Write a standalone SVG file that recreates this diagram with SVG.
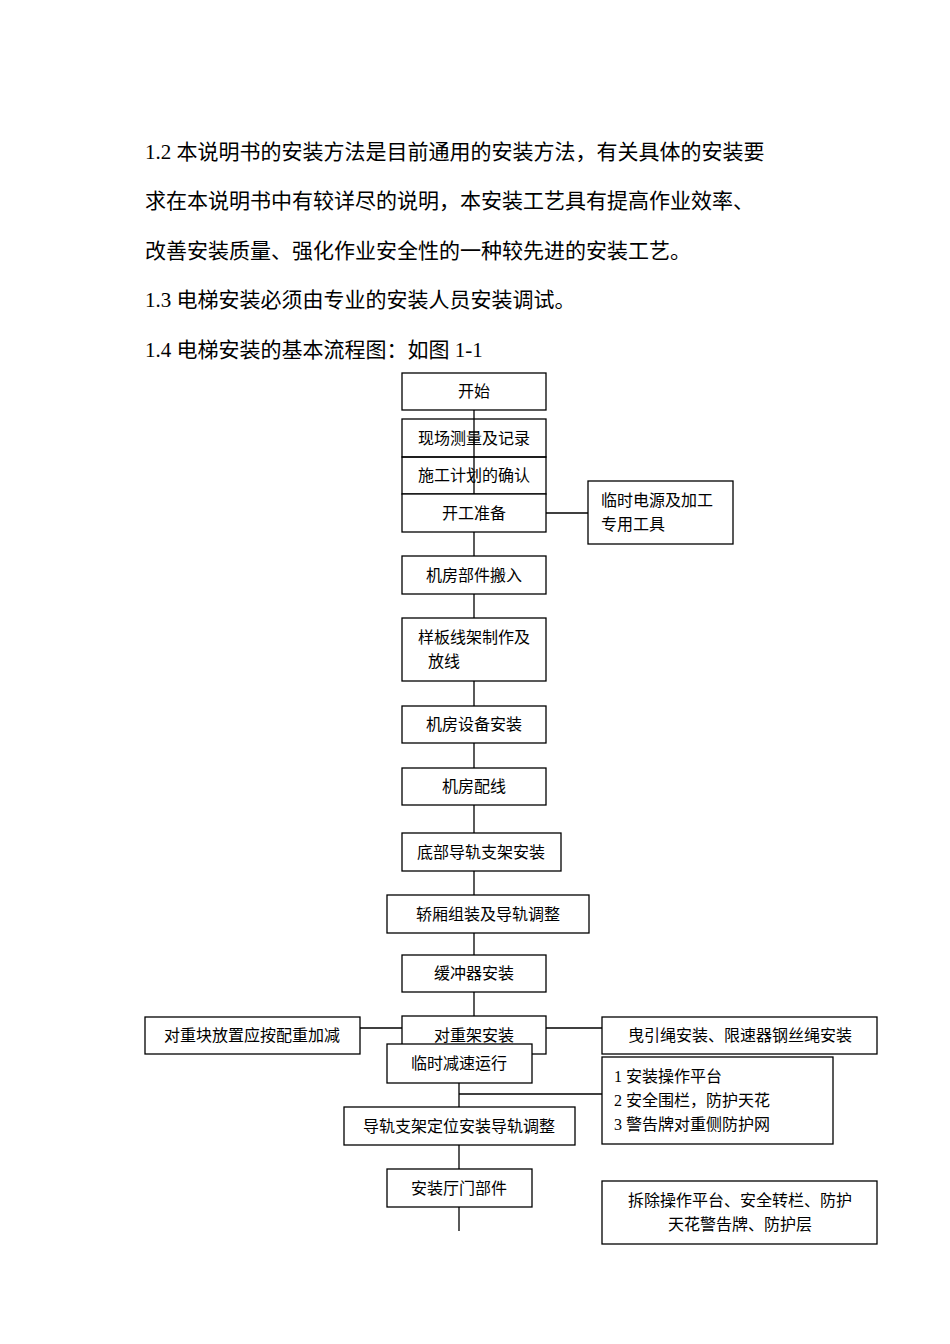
<svg xmlns="http://www.w3.org/2000/svg" width="950" height="1344" viewBox="0 0 950 1344">
<style>
.p{font-family:"Liberation Serif","Noto Sans CJK SC",serif;font-size:21px;fill:#000}
.t{font-family:"Liberation Serif","Noto Sans CJK SC",serif;font-size:16px;fill:#000}
rect{fill:#fff;stroke:#000;stroke-width:1.3}
line{stroke:#000;stroke-width:1.3}
</style>
<rect x="0" y="0" width="950" height="1344" style="stroke:none"/>
<g id="text">
<text class="p" x="145" y="159">1.2 本说明书的安装方法是目前通用的安装方法，有关具体的安装要</text>
<text class="p" x="145" y="208">求在本说明书中有较详尽的说明，本安装工艺具有提高作业效率、</text>
<text class="p" x="145" y="258">改善安装质量、强化作业安全性的一种较先进的安装工艺。</text>
<text class="p" x="145" y="307">1.3 电梯安装必须由专业的安装人员安装调试。</text>
<text class="p" x="145" y="357">1.4 电梯安装的基本流程图：如图 1-1</text>
</g>
<g id="connectors">
<line x1="474" y1="410" x2="474" y2="556"/>
<line x1="546" y1="513" x2="588" y2="513"/>
<line x1="474" y1="594" x2="474" y2="618"/>
<line x1="474" y1="681" x2="474" y2="706"/>
<line x1="474" y1="743" x2="474" y2="768"/>
<line x1="474" y1="805" x2="474" y2="833"/>
<line x1="474" y1="871" x2="474" y2="895"/>
<line x1="474" y1="933" x2="474" y2="955"/>
<line x1="474" y1="992" x2="474" y2="1016"/>
<line x1="360" y1="1028" x2="402" y2="1028"/>
<line x1="546" y1="1028" x2="602" y2="1028"/>
<line x1="459" y1="1083" x2="459" y2="1107"/>
<line x1="459" y1="1094" x2="602" y2="1094"/>
<line x1="459" y1="1145" x2="459" y2="1169"/>
<line x1="459" y1="1207" x2="459" y2="1231"/>
</g>
<g id="n1"><rect x="402" y="373" width="144" height="37"/><text class="t" x="474" y="397" text-anchor="middle">开始</text></g>
<g id="n2"><rect x="402" y="419" width="144" height="38" style="fill:none"/><text class="t" x="474" y="444" text-anchor="middle">现场测量及记录</text></g>
<g id="n3"><rect x="402" y="457" width="144" height="37" style="fill:none"/><text class="t" x="474" y="481" text-anchor="middle">施工计划的确认</text></g>
<g id="n4"><rect x="402" y="494" width="144" height="38"/><text class="t" x="474" y="519" text-anchor="middle">开工准备</text></g>
<g id="n5"><rect x="588" y="481" width="145" height="63"/><text class="t" x="601" y="506">临时电源及加工</text><text class="t" x="601" y="530">专用工具</text></g>
<g id="n6"><rect x="402" y="556" width="144" height="38"/><text class="t" x="474" y="581" text-anchor="middle">机房部件搬入</text></g>
<g id="n7"><rect x="402" y="618" width="144" height="63"/><text class="t" x="474" y="643" text-anchor="middle">样板线架制作及</text><text class="t" x="444" y="667" text-anchor="middle">放线</text></g>
<g id="n8"><rect x="402" y="706" width="144" height="37"/><text class="t" x="474" y="730" text-anchor="middle">机房设备安装</text></g>
<g id="n9"><rect x="402" y="768" width="144" height="37"/><text class="t" x="474" y="792" text-anchor="middle">机房配线</text></g>
<g id="n10"><rect x="402" y="833" width="159" height="38"/><text class="t" x="481" y="858" text-anchor="middle">底部导轨支架安装</text></g>
<g id="n11"><rect x="387" y="895" width="202" height="38"/><text class="t" x="488" y="920" text-anchor="middle">轿厢组装及导轨调整</text></g>
<g id="n12"><rect x="402" y="955" width="144" height="37"/><text class="t" x="474" y="979" text-anchor="middle">缓冲器安装</text></g>
<g id="n13"><rect x="145" y="1017" width="215" height="37"/><text class="t" x="252" y="1041" text-anchor="middle">对重块放置应按配重加减</text></g>
<g id="n14"><rect x="402" y="1016" width="144" height="38"/><text class="t" x="474" y="1041" text-anchor="middle">对重架安装</text></g>
<g id="n15"><rect x="602" y="1017" width="275" height="37"/><text class="t" x="740" y="1041" text-anchor="middle">曳引绳安装、限速器钢丝绳安装</text></g>
<g id="n16"><rect x="387" y="1044" width="145" height="39"/><text class="t" x="459" y="1069" text-anchor="middle">临时减速运行</text></g>
<g id="n17"><rect x="602" y="1057" width="231" height="87"/><text class="t" x="614" y="1082">1 安装操作平台</text><text class="t" x="614" y="1106">2 安全围栏，防护天花</text><text class="t" x="614" y="1130">3 警告牌对重侧防护网</text></g>
<g id="n18"><rect x="344" y="1107" width="231" height="38"/><text class="t" x="459" y="1132" text-anchor="middle">导轨支架定位安装导轨调整</text></g>
<g id="n19"><rect x="387" y="1169" width="145" height="38"/><text class="t" x="459" y="1194" text-anchor="middle">安装厅门部件</text></g>
<g id="n20"><rect x="602" y="1181" width="275" height="63"/><text class="t" x="740" y="1206" text-anchor="middle">拆除操作平台、安全转栏、防护</text><text class="t" x="740" y="1230" text-anchor="middle">天花警告牌、防护层</text></g>
</svg>
